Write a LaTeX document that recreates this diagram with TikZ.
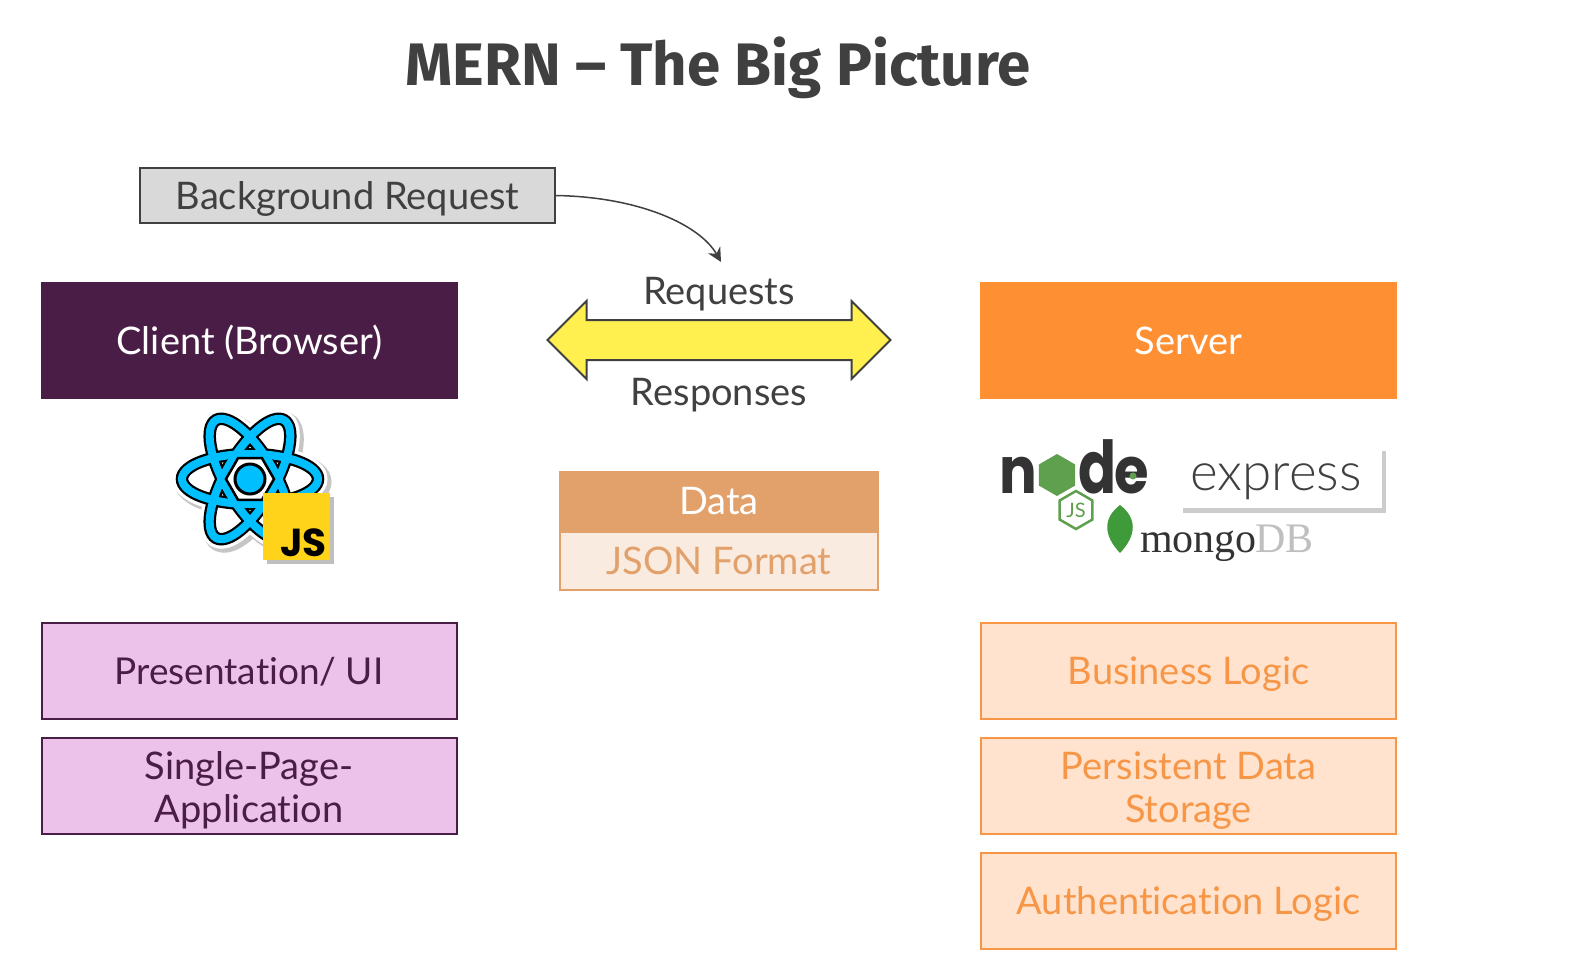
\documentclass[tikz,border=0pt]{standalone}
\usepackage{fontspec}
\setmainfont[Ligatures=NoCommon]{Lato}
\newfontfamily\titlefont{Fira Sans}
\newfontfamily\heavyfont{Poppins}
\newfontfamily\lightfont{Lato Light}
\newfontfamily\mongofont{Liberation Serif}
\usetikzlibrary{arrows.meta, shapes.arrows, shapes.geometric}
\definecolor{inkgray}{HTML}{404040}
\definecolor{clientpurple}{HTML}{4A1D47}
\definecolor{clientpink}{HTML}{ECC1EA}
\definecolor{serverorange}{HTML}{FF8F33}
\definecolor{serverpale}{HTML}{FFE3CF}
\definecolor{serverline}{HTML}{F79646}
\definecolor{datahead}{HTML}{E2A16A}
\definecolor{datapale}{HTML}{FAEBE0}
\definecolor{reqyellow}{HTML}{FFF050}
\definecolor{reactblue}{HTML}{00BFFF}
\definecolor{jsyellow}{HTML}{FFD31A}
\definecolor{nodegreen}{HTML}{5FA04E}
\definecolor{leafgreen}{HTML}{3F9A3A}
\newcommand{\labelstrut}{\rule[-9pt]{0pt}{45pt}}
\tikzset{
  label38/.style={font=\fontsize{38}{43}\selectfont, align=center, execute at begin node=\labelstrut, execute at end node=\labelstrut},
  box/.style={rectangle, inner sep=0pt, minimum width=415pt, label38},
  clientbox/.style={box, draw=clientpurple, fill=clientpink, text=clientpurple, line width=2pt, minimum height=96pt},
  serverbox/.style={box, draw=serverline, fill=serverpale, text=serverline, line width=2pt, minimum height=96pt},
  headbox/.style={box, minimum width=417pt, minimum height=117pt, text=white},
  twolines/.style={label38, inner sep=0pt, yshift=-6pt},
  nodeletter/.style={font=\heavyfont\bfseries\fontsize{56}{56}\selectfont, text=black!80, anchor=base, inner sep=0pt, transform shape},
  mongotext/.style={font=\mongofont\fontsize{42}{42}\selectfont, anchor=base west, inner sep=0pt}
}
\begin{document}
\begin{tikzpicture}[x=1pt,y=-1pt]
\useasboundingbox (0,0) rectangle (1583,975);
\fill[white] (0,0) rectangle (1583,975);
\node[font=\titlefont\bfseries\fontsize{60}{62}\selectfont, text=inkgray] (title) at (718,68) {MERN – The Big Picture};
\node[draw=inkgray, fill=gray!30, line width=2pt, minimum width=415pt, minimum height=55pt, inner sep=0pt, label38, text=inkgray] (bgreq) at (347.5,195.5) {Background Request};
\node[headbox, fill=clientpurple] (client) at (249.5,340.5) {Client (Browser)};
\node[headbox, fill=serverorange] (server) at (1188.5,340.5) {Server};
\node[double arrow, draw=inkgray, fill=reqyellow, line width=2pt, minimum height=343pt, double arrow head extend=19pt, inner sep=0pt, text height=38pt, text depth=0pt, text width=1pt] (reqarrow) at (719,340) {};
\node[label38, text=inkgray] (req) at (719,291) {Requests};
\node[label38, text=inkgray] (resp) at (719,392) {Responses};
\coordinate (reqin) at (721,262);
\draw[-{Stealth[length=14pt,width=14pt]}, inkgray, line width=1.5pt] (bgreq.east) .. controls (640,197) and (700,225) .. (reqin);
\node[rectangle, fill=datahead, minimum width=320pt, minimum height=60pt, inner sep=0pt, label38, text=white] (datahd) at (719,501) {Data};
\node[rectangle, draw=datahead, fill=datapale, line width=2pt, minimum width=318pt, minimum height=58pt, inner sep=0pt, label38, text=datahead, anchor=north] (json) at (datahd.south) {JSON Format};
\node[clientbox, font=\fontsize{37}{43}\selectfont] (present) at (249,670.5) {Presentation/ UI};
\node[clientbox] (spa) at (249,785.5) {};
\node[twolines, text=clientpurple] (spatext) at (spa) {Single-Page-\\Application};
\node[serverbox] (business) at (1188.5,670.5) {Business Logic};
\node[serverbox] (persist) at (1188.5,785.5) {};
\node[twolines, text=serverline] (persisttext) at (persist) {Persistent Data\\Storage};
\node[serverbox] (auth) at (1188.5,901) {Authentication Logic};
\coordinate (react) at (250,479);
\coordinate (reactshade) at (253,482);
\foreach \ang in {0,60,120} {
  \draw[gray!45, line width=21pt, rotate around={\ang:(reactshade)}] (reactshade) ellipse [x radius=68pt, y radius=25pt];
}
\foreach \ang in {0,60,120} {
  \draw[white, line width=19pt, rotate around={\ang:(react)}] (react) ellipse [x radius=68pt, y radius=25pt];
}
\foreach \ang in {0,60,120} {
  \fill[white, rotate around={\ang:(react)}] (react) ellipse [x radius=68pt, y radius=25pt];
}
\foreach \ang in {0,60,120} {
  \draw[black, line width=12.5pt, rotate around={\ang:(react)}] (react) ellipse [x radius=68pt, y radius=25pt];
}
\foreach \ang in {0,60,120} {
  \draw[reactblue, line width=8pt, rotate around={\ang:(react)}] (react) ellipse [x radius=68pt, y radius=25pt];
}
\node[regular polygon, regular polygon sides=6, draw=black, fill=white, line width=2.5pt, minimum size=48pt, inner sep=0pt] (reacthex) at (react) {};
\fill[reactblue, draw=black, line width=3pt] (react) circle (15pt);
\fill[black, opacity=0.25] (267,497) rectangle (334,564);
\node[rectangle, fill=jsyellow, minimum size=67pt, inner sep=0pt] (jsbox) at (296.5,526.5) {};
\node[font=\heavyfont\bfseries\fontsize{39}{39}\selectfont, text=black, anchor=base east, inner sep=0pt] (jstext) at (327,556) {JS};
\node[nodeletter, yscale=1.15] (noden) at (1018,493) {n};
\node[regular polygon, regular polygon sides=6, shape border rotate=30, fill=nodegreen, minimum size=42pt, inner sep=0pt] (nodehex) at (1057,475) {};
\node[nodeletter, yscale=1.3] (noded) at (1098,493) {d};
\node[nodeletter, yscale=1.15] (nodee) at (1132,493) {e};
\fill[nodegreen] (1133,476) circle (3.5pt);
\node[regular polygon, regular polygon sides=6, shape border rotate=30, draw=nodegreen, line width=2.5pt, minimum size=38pt, inner sep=0pt, font=\fontsize{20}{20}\selectfont, text=nodegreen] (nodejs) at (1076,510) {JS};
\fill[black, opacity=0.2] (1183,451) rectangle (1386,513);
\node[rectangle, fill=white, minimum width=203pt, minimum height=61pt, inner sep=0pt] (expressbox) at (1280.5,477.5) {};
\node[font=\lightfont\fontsize{53}{53}\selectfont, text=inkgray, inner sep=0pt] (express) at (1276,482) {express};
\fill[leafgreen] (1120,505) .. controls (1103,518) and (1103,535) .. (1120,553) .. controls (1137,535) and (1137,518) .. (1120,505) -- cycle;
\node[mongotext, text=black!80] (mongo) at (1140,552) {mongo};
\node[mongotext, text=gray!50] (mongodb) at (1255,552) {DB};
\end{tikzpicture}
\end{document}
